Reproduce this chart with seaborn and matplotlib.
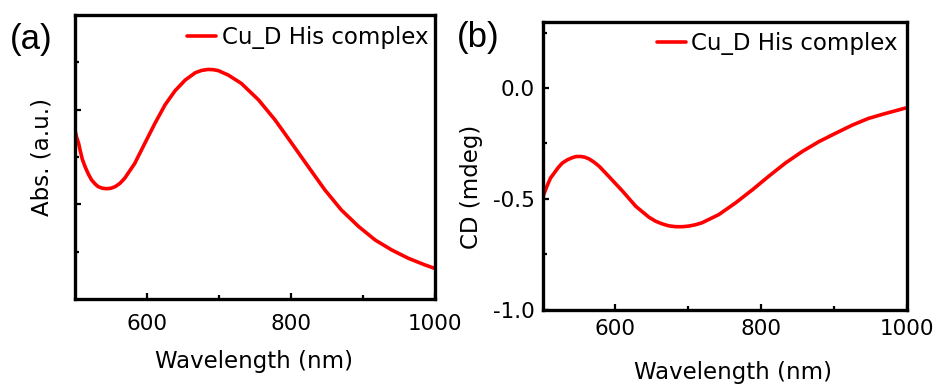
import matplotlib
matplotlib.use("Agg")
import matplotlib.pyplot as plt
import seaborn as sns
import pandas as pd

# ---- data ----
wl_a = [500, 502, 505, 507, 510, 514, 518.5, 523, 528, 532, 538, 544, 550, 556, 562.5,
        569, 583, 597, 611, 625, 639, 653, 667, 676, 685, 692, 699, 713, 731, 755, 778,
        801, 824, 847, 870, 894, 917, 940, 963, 986, 999]
abs_a = [0.714, 0.686, 0.658, 0.630, 0.592, 0.559, 0.528, 0.503, 0.486, 0.475, 0.468,
         0.466, 0.468, 0.475, 0.489, 0.510, 0.573, 0.658, 0.742, 0.820, 0.880, 0.925,
         0.956, 0.966, 0.970, 0.969, 0.965, 0.946, 0.911, 0.841, 0.756, 0.658, 0.559,
         0.461, 0.376, 0.306, 0.249, 0.207, 0.172, 0.144, 0.130]

wl_b = [500, 502, 507, 511, 516, 521.5, 527, 534, 541, 546, 553, 558, 564, 571, 578,
        591, 610, 628, 646, 655, 664, 673, 683, 692, 701, 710, 719, 742, 765, 788, 810,
        833, 856, 879, 902, 925, 947, 970, 998]
cd_b = [-0.504, -0.478, -0.436, -0.406, -0.384, -0.359, -0.339, -0.324, -0.314, -0.309,
        -0.309, -0.312, -0.320, -0.335, -0.354, -0.399, -0.466, -0.534, -0.583, -0.601,
        -0.613, -0.622, -0.626, -0.626, -0.623, -0.617, -0.608, -0.571, -0.518, -0.459,
        -0.399, -0.339, -0.287, -0.242, -0.204, -0.167, -0.137, -0.115, -0.090]

series_label = "Cu_D His complex"
x_major = [600, 800, 1000]
x_minor = [700, 900]
abs_major = [0.4, 0.8]
abs_minor = [0.2, 0.6, 1.0]
cd_major = [-1.0, -0.5, 0.0]
cd_major_labels = ["-1.0", "-0.5", "0.0"]
cd_minor = [-0.75, -0.25, 0.25]
panel_letters = ["(a)", "(b)"]
x_label = "Wavelength (nm)"
y_label_a = "Abs. (a.u.)"
y_label_b = "CD (mdeg)"

df_a = pd.DataFrame({"wl": wl_a, "val": abs_a})
df_b = pd.DataFrame({"wl": wl_b, "val": cd_b})

sns.set_theme(style="ticks")
plt.rcParams["font.family"] = ["DejaVu Sans"]
plt.rcParams["axes.unicode_minus"] = False
for k in ("text.color", "axes.labelcolor", "xtick.color", "ytick.color",
          "axes.edgecolor"):
    plt.rcParams[k] = "black"

W, H = 939, 384
fig = plt.figure(figsize=(W / 100, H / 100), dpi=100)


def rect(l, t, r, b):
    return [l / W, 1 - b / H, (r - l) / W, (b - t) / H]


ax1 = fig.add_axes(rect(75, 15, 435, 299))
ax2 = fig.add_axes(rect(542.5, 21.7, 907, 309.5))

RED = "#ff0000"
sns.lineplot(data=df_a, x="wl", y="val", ax=ax1, color=RED, linewidth=2.6,
             label=series_label)
sns.lineplot(data=df_b, x="wl", y="val", ax=ax2, color=RED, linewidth=2.6,
             label=series_label)

for ax in (ax1, ax2):
    ax.set_xlim(500, 1000)
    ax.set_xticks(x_major)
    ax.set_xticks(x_minor, minor=True)
    for s in ax.spines.values():
        s.set_linewidth(2.4)
        s.set_color("black")
        s.set_visible(True)
    ax.tick_params(which="major", direction="in", length=4.5, width=1.6,
                   labelsize=15.5, colors="black", top=False, right=False)
    ax.tick_params(which="minor", direction="in", length=3, width=1.6,
                   colors="black", top=False, right=False)
    ax.set_xlabel(x_label, fontsize=16.5, color="black")

# panel a
ax1.set_ylim(0, 1.2)
ax1.set_yticks(abs_major)
ax1.set_yticks(abs_minor, minor=True)
ax1.set_yticklabels([])
ax1.tick_params(axis="x", which="major", pad=10.5)
ax1.set_ylabel(y_label_a, fontsize=16.5, color="black")
ax1.yaxis.set_label_coords(-0.060, 0.5)
ax1.xaxis.set_label_coords(0.497, -0.181)

# panel b
ax2.set_ylim(-1.0, 0.3)
ax2.set_yticks(cd_major)
ax2.set_yticklabels(cd_major_labels)
ax2.set_yticks(cd_minor, minor=True)
ax2.tick_params(axis="x", which="major", pad=6.8)
ax2.tick_params(axis="y", which="major", pad=5.4)
ax2.set_ylabel(y_label_b, fontsize=16.5, color="black")
ax2.yaxis.set_label_coords(-0.163, 0.4256)
ax2.xaxis.set_label_coords(0.524, -0.178)

# legends
for ax, anchor in ((ax1, (0.981, 0.961)), (ax2, (0.975, 0.963))):
    leg = ax.legend(loc="upper right", bbox_to_anchor=anchor, frameon=False,
                    fontsize=16.5, handlelength=1.25, handletextpad=0.25,
                    borderpad=0, borderaxespad=0)
    for t in leg.get_texts():
        t.set_color("black")

# panel letters
fig.text(10 / W, 1 - 39 / H, panel_letters[0], fontsize=25, va="center",
         ha="left", color="black", family=["Liberation Sans", "DejaVu Sans"])
fig.text(457 / W, 1 - 38 / H, panel_letters[1], fontsize=25, va="center",
         ha="left", color="black", family=["Liberation Sans", "DejaVu Sans"])

fig.savefig("out.png", dpi=100)
